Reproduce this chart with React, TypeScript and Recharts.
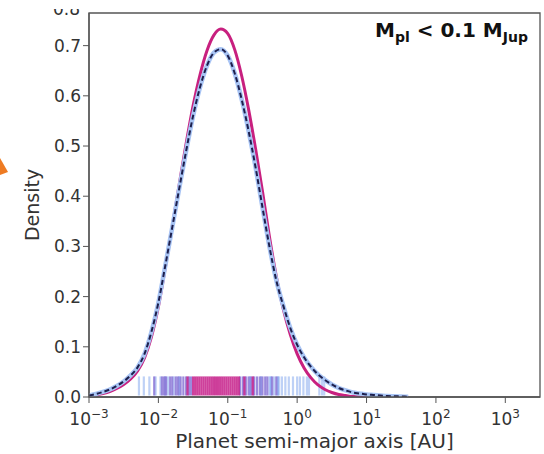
import { ComposedChart, Line, XAxis, YAxis, ReferenceLine, ReferenceArea, Label } from 'recharts';

const logA = [
  -3.0, -2.9, -2.8, -2.7, -2.6, -2.5, -2.4, -2.3, -2.2, -2.1,
  -2.0, -1.9, -1.8, -1.7, -1.6, -1.5, -1.4, -1.3, -1.2, -1.1,
  -1.0, -0.9, -0.8, -0.7, -0.6, -0.5, -0.4, -0.3, -0.2, -0.1,
  0.0, 0.1, 0.2, 0.3, 0.4, 0.5, 0.6, 0.7, 0.8, 0.9,
  1.0, 1.1, 1.2, 1.3, 1.4, 1.5, 1.6,
];
// all planets (blue band + dashed fit)
const kdeAll = [
  0.003, 0.006, 0.010, 0.015, 0.022, 0.031, 0.043, 0.059, 0.086, 0.130,
  0.188, 0.262, 0.338, 0.415, 0.490, 0.560, 0.617, 0.660, 0.686, 0.693,
  0.680, 0.645, 0.593, 0.530, 0.458, 0.378, 0.300, 0.232, 0.182, 0.138,
  0.104, 0.079, 0.060, 0.045, 0.034, 0.025, 0.018, 0.013, 0.009, 0.007,
  0.005, 0.004, 0.003, 0.002, 0.0015, 0.001, 0.0005,
];
// subsample (magenta)
const kdeSub = [
  0.002, 0.004, 0.007, 0.011, 0.017, 0.025, 0.036, 0.052, 0.078, 0.120,
  0.180, 0.258, 0.340, 0.423, 0.505, 0.580, 0.642, 0.690, 0.721, 0.733,
  0.724, 0.692, 0.640, 0.573, 0.495, 0.410, 0.320, 0.240, 0.175, 0.125,
  0.086, 0.058, 0.038, 0.024, 0.015, 0.009, 0.005, 0.003, 0.001, 0.0005,
  0, 0, 0, 0, 0, 0, 0,
];

// rug marks (log10 a), grouped by colour
const rugLight = [-2.28, -2.21, -2.13, -2.04, -1.97, -1.86, -1.78, -0.40, -0.33, -0.26, -0.22, -0.17, -0.12, -0.06, 0.0, 0.04, 0.09, 0.14, 0.17, 0.32, 0.36, 0.39];
const rugBlue = [-1.90, -1.70, -0.68, -0.52, -0.38, -0.28];
const rugPurple = [-2.06, -1.95, -1.92, -1.89, -1.83, -1.80, -1.75, -1.72, -1.68, -1.64, -1.60, -1.56, -1.53, -0.82, -0.78, -0.74, -0.70, -0.66, -0.62, -0.58, -0.54, -0.50, -0.46, -0.43, -0.36, -0.30];
const rugMagenta = [-1.58, -1.50, -1.47, -1.44, -1.41, -1.38, -1.35, -1.32, -1.29, -1.26, -1.23, -1.20, -1.17, -1.14, -1.11, -1.08, -1.05, -1.02, -0.99, -0.96, -0.93, -0.90, -0.87, -0.84, -0.76, -0.64];

const xTicks = [-3, -2, -1, 0, 1, 2, 3];
const yTicks = [0, 0.1, 0.2, 0.3, 0.4, 0.5, 0.6, 0.7];

const rows = logA.map((x, i) => ({ x, all: kdeAll[i], sub: kdeSub[i] }));

const FONT = '"DejaVu Sans", sans-serif';
const INK = '#333';
const AXIS = '#555';

const LogTick = ({ x, y, payload }: any) => {
  const e = payload.value as number;
  return (
    <text x={x} y={y + 20} textAnchor="middle" fill={INK} fontSize={17} fontFamily={FONT}>
      10<tspan dy={-7} fontSize={12}>{e < 0 ? `\u2212${-e}` : e}</tspan>
    </text>
  );
};

const rug = (vals: number[], color: string) =>
  vals.map((v, i) => (
    <ReferenceLine
      key={color + i}
      segment={[{ x: v, y: 0.003 }, { x: v, y: 0.041 }]}
      stroke={color}
      strokeWidth={2.2}
      strokeOpacity={0.85}
    />
  ));

export default function App() {
  return (
    <div style={{ position: 'absolute', left: 0, top: 0, width: 544, height: 454, background: '#fff', overflow: 'hidden', fontFamily: FONT }}>
      <ComposedChart width={544} height={454} data={rows} margin={{ top: 13, right: 4, bottom: 0, left: 0 }}>
        <XAxis
          dataKey="x" type="number" domain={[-3, 3.5]} ticks={xTicks} allowDataOverflow
          tick={<LogTick />} tickSize={6} height={57}
          axisLine={{ stroke: AXIS, strokeWidth: 1.3 }} tickLine={{ stroke: AXIS }}
        >
          <Label value="Planet semi-major axis [AU]" position="insideBottom" offset={6} fill={INK} fontSize={20} fontFamily={FONT} />
        </XAxis>
        <YAxis
          type="number" domain={[0, 0.765]} ticks={yTicks} allowDataOverflow width={89}
          tickFormatter={(v: number) => v.toFixed(1)} tickSize={6}
          tick={{ fill: INK, fontSize: 17, fontFamily: FONT }}
          axisLine={{ stroke: AXIS, strokeWidth: 1.3 }} tickLine={{ stroke: AXIS }}
        >
          <Label value="Density" angle={-90} position="center" dx={-12} fill={INK} fontSize={19} fontFamily={FONT} />
        </YAxis>
        <ReferenceArea x1={-3} x2={3.5} y1={0} y2={0.765} fill="none" stroke={AXIS} strokeWidth={1.3} />
        {rug(rugLight, '#b3c9f5')}
        {rug(rugBlue, '#86a6ee')}
        {rug(rugPurple, '#8a76d6')}
        {rug(rugMagenta, '#c51f8a')}
        <Line type="monotone" dataKey="sub" stroke="#c8207f" strokeWidth={3} dot={false} isAnimationActive={false} />
        <Line type="monotone" dataKey="all" stroke="#a8c4f4" strokeWidth={4.5} dot={false} isAnimationActive={false} />
        <Line type="monotone" dataKey="all" stroke="#1d1f4d" strokeWidth={2} strokeDasharray="5 3" dot={false} isAnimationActive={false} />
      </ComposedChart>
      <div style={{ position: 'absolute', left: 375, top: 18, fontSize: 20, fontWeight: 'bold', color: '#111', whiteSpace: 'nowrap' }}>
        M<sub style={{ fontSize: 14 }}>pl</sub> &lt; 0.1 M<sub style={{ fontSize: 14 }}>Jup</sub>
      </div>
      <div style={{ position: 'absolute', left: 48, top: 9, height: 7, overflow: 'hidden', width: 32 }}>
        <div style={{ position: 'absolute', top: -10, right: 0, fontSize: 17, color: INK }}>0.8</div>
      </div>
      <svg style={{ position: 'absolute', left: 0, top: 150 }} width={12} height={30}>
        <polygon points="0,8 8,22 0,25" fill="#ee7b22" />
      </svg>
    </div>
  );
}
